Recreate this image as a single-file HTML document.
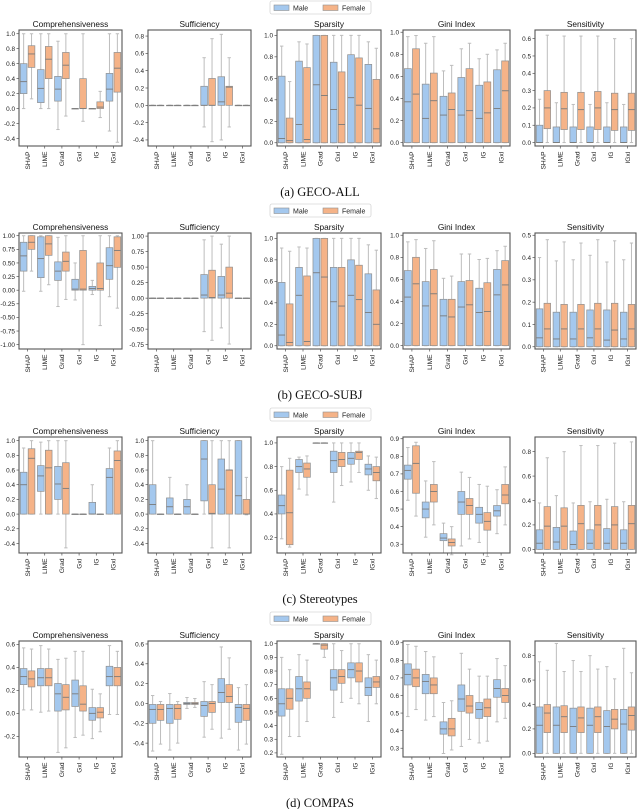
<!DOCTYPE html>
<html><head><meta charset="utf-8"><style>
html,body{margin:0;padding:0;background:#fff;}
svg{display:block;font-family:"Liberation Sans",sans-serif;}
</style></head><body>
<svg id="fig" width="640" height="809" viewBox="0 0 640 809" xmlns="http://www.w3.org/2000/svg"></svg>
<script>
const methods=["SHAP","LIME","Grad","GxI","IG","IGxI"];
const panelTitles=["Comprehensiveness","Sufficiency","Sparsity","Gini Index","Sensitivity"];
const captions=["(a) GECO-ALL","(b) GECO-SUBJ","(c) Stereotypes","(d) COMPAS"];
const Z=[0,0,0,0,0];
const rowA_male=[
 [[0,0.2,0.36,0.6,1],[0,0.08,0.27,0.52,1],[-0.28,0.1,0.26,0.43,0.9],[0,0,0,0,0],[0,0,0,0,0],[-0.3,0.1,0.26,0.47,1]],
 [Z,Z,Z,[-0.25,0,0,0.22,0.55],[-0.4,0,0.04,0.33,0.82],Z],
 [[0,0,0.04,0.62,0.9],[0,0,0.17,0.76,0.94],[0,0,0.54,1,1],[0,0,0.31,0.75,1],[0,0,0.42,0.82,1],[0,0,0.32,0.73,0.94]],
 [[0,0,0.37,0.67,0.96],[0,0,0.22,0.53,0.9],[0,0,0.25,0.42,0.65],[0,0,0.25,0.59,0.85],[0,0,0.22,0.52,0.76],[0,0,0.31,0.66,0.84]],
 [[0,0,0,0.1,0.25],[0,0,0,0.09,0.23],[0,0,0,0.09,0.22],[0,0,0,0.09,0.22],[0,0,0,0.09,0.23],[0,0,0,0.09,0.22]]];
const rowA_female=[
 [[0.13,0.55,0.73,0.84,1],[0,0.4,0.66,0.83,1],[-0.1,0.4,0.58,0.75,1],[-0.17,0,0,0.4,1],[-0.12,0,0.02,0.09,0.23],[-0.45,0.22,0.54,0.75,1]],
 [Z,Z,Z,[-0.42,0,0,0.31,0.77],[-0.25,0,0.21,0.22,0.55],Z],
 [[0,0,0.02,0.23,0.57],[0,0,0.03,0.7,0.92],[0,0,0.44,1,1],[0,0,0.17,0.66,1],[0,0,0.35,0.79,1],[0,0,0.13,0.59,0.88]],
 [[0,0,0.44,0.85,0.97],[0,0,0.38,0.63,0.96],[0,0,0.3,0.45,0.7],[0,0,0.29,0.67,0.9],[0,0,0.27,0.55,0.8],[0,0,0.47,0.74,0.9]],
 [[0,0.08,0.2,0.3,0.62],[0,0.075,0.195,0.29,0.615],[0,0.075,0.19,0.29,0.615],[0,0.075,0.2,0.295,0.615],[0,0.07,0.19,0.285,0.6],[0,0.07,0.19,0.285,0.6]]];
const rowB_male=[
 [[-0.02,0.35,0.63,0.88,1],[-0.02,0.23,0.58,0.98,1],[-0.3,0.18,0.35,0.52,0.97],[-0.18,0,0.02,0.2,0.5],[-0.08,0,0.03,0.07,0.18],[-0.12,0.2,0.45,0.78,1]],
 [Z,Z,Z,[-0.54,0,0.05,0.38,0.94],[-0.48,0,0.05,0.35,0.87],Z],
 [[0,0,0.1,0.59,0.91],[0,0,0.47,0.73,0.92],[0,0,0.68,1,1],[0,0,0.41,0.73,1],[0,0,0.47,0.8,1],[0,0,0.31,0.67,0.94]],
 [[0,0,0.44,0.68,0.94],[0,0,0.36,0.58,0.88],[0,0,0.27,0.42,0.61],[0,0,0.35,0.58,0.83],[0,0,0.3,0.52,0.78],[0,0,0.46,0.69,0.86]],
 [[0,0,0.04,0.17,0.4],[0,0,0.035,0.155,0.385],[0,0,0.035,0.155,0.39],[0,0,0.04,0.165,0.41],[0,0,0.03,0.165,0.38],[0,0,0.035,0.155,0.39]]];
const rowB_female=[
 [[0.35,0.75,0.88,1,1],[0.1,0.64,0.85,1,1],[-0.17,0.35,0.53,0.7,1],[-1,0,0.02,0.73,1],[-0.65,0,0.03,0.5,1],[-0.33,0.42,0.73,0.98,1]],
 [Z,Z,Z,[-0.68,0,0.01,0.45,1],[-0.74,0,0.08,0.5,1],Z],
 [[0,0,0.03,0.39,0.88],[0,0,0.04,0.65,0.91],[0,0,0.64,1,1],[0,0,0.37,0.73,1],[0,0,0.43,0.75,1],[0,0,0.2,0.52,0.89]],
 [[0,0,0.56,0.8,0.96],[0,0,0.47,0.69,0.95],[0,0,0.26,0.42,0.63],[0,0,0.37,0.59,0.83],[0,0,0.31,0.57,0.79],[0,0,0.55,0.77,0.9]],
 [[0,0,0.08,0.195,0.48],[0,0,0.08,0.19,0.47],[0,0,0.08,0.19,0.465],[0,0,0.08,0.195,0.48],[0,0,0.075,0.195,0.475],[0,0,0.08,0.19,0.465]]];
const rowC_male=[
 [[0,0,0.4,0.57,0.9],[0,0.31,0.52,0.66,0.98],[0,0.2,0.41,0.65,1],Z,[0,0,0,0.16,0.4],[0,0,0.5,0.62,0.9]],
 [[0,0,0.13,0.4,1],[0,0,0.1,0.22,0.5],[0,0,0.1,0.2,0.4],[0,0.18,0.75,1,1],[0,0,0.34,0.75,1],[0,0,0.25,1,1]],
 [[0.19,0.4,0.47,0.56,0.8],[0.61,0.75,0.8,0.86,0.88],[1,1,1,1,1],[0.5,0.75,0.85,0.93,1],[0.67,0.82,0.87,0.92,1],[0.6,0.73,0.78,0.82,0.89]],
 [[0.55,0.67,0.72,0.75,0.85],[0.34,0.45,0.5,0.54,0.66],[0.25,0.32,0.335,0.36,0.42],[0.29,0.47,0.54,0.6,0.71],[0.31,0.42,0.47,0.51,0.64],[0.36,0.46,0.49,0.52,0.61]],
 [[0,0,0.05,0.16,0.38],[0,0,0.06,0.18,0.44],[0,0,0.04,0.15,0.38],[0,0,0.05,0.16,0.39],[0,0,0.05,0.17,0.41],[0,0,0.05,0.16,0.39]]];
const rowC_female=[
 [[0,0,0.76,0.89,1],[0,0,0.63,0.87,1],[-0.46,0,0.35,0.7,1],Z,Z,[0,0,0.73,0.86,1]],
 [Z,Z,Z,[-0.46,0,0.01,0.4,1],[-0.46,0,0.6,0.6,1],[-0.01,0,0,0.2,0.5]],
 [[0.12,0.14,0.41,0.77,0.87],[0.56,0.71,0.78,0.83,0.89],[1,1,1,1,1],[0.64,0.8,0.86,0.92,1],[0.75,0.86,0.92,0.93,1],[0.53,0.68,0.75,0.8,0.88]],
 [[0.46,0.59,0.76,0.86,0.88],[0.41,0.54,0.6,0.64,0.77],[0.24,0.29,0.31,0.33,0.4],[0.33,0.47,0.52,0.56,0.68],[0.23,0.38,0.43,0.48,0.63],[0.41,0.53,0.58,0.64,0.74]],
 [[0,0,0.19,0.35,0.75],[0,0,0.19,0.34,0.8],[0,0,0.21,0.36,0.85],[0,0,0.2,0.36,0.85],[0,0,0.2,0.35,0.87],[0,0,0.21,0.36,0.88]]];
const rowD_male=[
 [[0.03,0.25,0.32,0.39,0.57],[0.01,0.24,0.31,0.39,0.59],[-0.34,0.02,0.17,0.26,0.47],[-0.21,0.06,0.17,0.29,0.54],[-0.22,-0.06,0,0.05,0.21],[-0.01,0.24,0.32,0.41,0.59]],
 [[-0.48,-0.2,-0.06,-0.01,0.08],[-0.47,-0.2,-0.05,-0.01,0.1],[-0.05,-0.01,0,0.01,0.06],[-0.34,-0.13,-0.02,0.02,0.22],[-0.35,0.01,0.11,0.25,0.57],[-0.47,-0.19,-0.04,-0.01,0.16]],
 [[0.19,0.47,0.56,0.67,0.9],[0.32,0.58,0.67,0.76,0.92],[1,1,1,1,1],[0.46,0.66,0.75,0.81,1],[0.6,0.75,0.81,0.86,1],[0.43,0.62,0.68,0.75,0.92]],
 [[0.48,0.66,0.72,0.78,0.89],[0.46,0.61,0.68,0.72,0.85],[0.27,0.38,0.41,0.45,0.56],[0.31,0.51,0.58,0.66,0.84],[0.33,0.47,0.52,0.56,0.71],[0.45,0.59,0.64,0.69,0.81]],
 [[0,0,0.23,0.38,0.75],[0,0,0.23,0.38,0.9],[0,0,0.22,0.37,0.76],[0,0,0.23,0.37,0.8],[0,0,0.22,0.35,0.71],[0,0,0.24,0.36,0.86]]];
const rowD_female=[
 [[0.03,0.23,0.3,0.37,0.56],[0.02,0.24,0.31,0.39,0.56],[-0.3,0.03,0.14,0.25,0.48],[-0.19,0.02,0.08,0.24,0.54],[-0.16,-0.04,0.01,0.05,0.17],[-0.01,0.24,0.32,0.4,0.54]],
 [[-0.41,-0.17,-0.06,-0.01,0.02],[-0.4,-0.16,-0.05,-0.01,0.02],[-0.04,-0.01,0,0.01,0.05],[-0.26,-0.09,0,0.02,0.19],[-0.26,0.01,0.07,0.19,0.46],[-0.41,-0.17,-0.05,-0.01,0.19]],
 [[0.32,0.52,0.6,0.67,0.81],[0.43,0.6,0.67,0.72,0.88],[0.9,0.96,0.99,1,1],[0.57,0.71,0.76,0.81,0.95],[0.56,0.72,0.8,0.86,1],[0.56,0.68,0.72,0.76,0.88]],
 [[0.52,0.65,0.7,0.75,0.88],[0.48,0.61,0.66,0.7,0.82],[0.29,0.37,0.41,0.47,0.57],[0.35,0.5,0.54,0.6,0.75],[0.34,0.48,0.53,0.58,0.71],[0.47,0.56,0.6,0.64,0.77]],
 [[0,0.17,0.33,0.4,0.68],[0,0.17,0.3,0.39,0.67],[0,0.17,0.29,0.38,0.67],[0,0.17,0.3,0.38,0.69],[0,0.2,0.28,0.36,0.61],[0,0.19,0.31,0.38,0.66]]];
const yDomains=[
 [[-0.5,1.05],[-0.47,0.87],[-0.03,1.05],[-0.03,1.02],[-0.02,0.65]],
 [[-1.08,1.05],[-0.82,1.05],[-0.03,1.05],[-0.03,1.02],[-0.01,0.51]],
 [[-0.53,1.05],[-0.53,1.05],[0.07,1.05],[0.25,0.91],[-0.03,0.92]],
 [[-0.38,0.63],[-0.54,0.63],[0.17,1.02],[0.25,0.91],[-0.03,0.92]]];
const yTicks=[
 [["-0.4","-0.2","0.0","0.2","0.4","0.6","0.8","1.0"],["-0.4","-0.2","0.0","0.2","0.4","0.6","0.8"],["0.0","0.2","0.4","0.6","0.8","1.0"],["0.0","0.2","0.4","0.6","0.8","1.0"],["0.0","0.1","0.2","0.3","0.4","0.5","0.6"]],
 [["-1.00","-0.75","-0.50","-0.25","0.00","0.25","0.50","0.75","1.00"],["-0.75","-0.50","-0.25","0.00","0.25","0.50","0.75","1.00"],["0.0","0.2","0.4","0.6","0.8","1.0"],["0.0","0.2","0.4","0.6","0.8","1.0"],["0.0","0.1","0.2","0.3","0.4","0.5"]],
 [["-0.4","-0.2","0.0","0.2","0.4","0.6","0.8","1.0"],["-0.4","-0.2","0.0","0.2","0.4","0.6","0.8","1.0"],["0.2","0.4","0.6","0.8","1.0"],["0.3","0.4","0.5","0.6","0.7","0.8","0.9"],["0.0","0.2","0.4","0.6","0.8"]],
 [["-0.2","0.0","0.2","0.4","0.6"],["-0.4","-0.2","0.0","0.2","0.4","0.6"],["0.2","0.3","0.4","0.5","0.6","0.7","0.8","0.9","1.0"],["0.3","0.4","0.5","0.6","0.7","0.8","0.9"],["0.0","0.2","0.4","0.6","0.8"]]];
const maleRows=[rowA_male,rowB_male,rowC_male,rowD_male];
const femaleRows=[rowA_female,rowB_female,rowC_female,rowD_female];

const NS="http://www.w3.org/2000/svg";
const svg=document.getElementById('fig');
function mk(tag,attrs,parent,txt){const e=document.createElementNS(NS,tag);for(const k in attrs)e.setAttribute(k,attrs[k]);if(txt!==undefined)e.textContent=txt;(parent||svg).appendChild(e);return e;}
const frameX=[[19,122],[148,251],[277,381],[403,510],[535,636]];
const rowTop=[30,233,437,641];
const FH=116;
const BLUE="#a4c8ee",ORANGE="#f5b388",EDGE="#8f8f8f",WH="#bdbdbd",MED="#7a7a7a";
for(let r=0;r<4;r++){
  const top=rowTop[r],bot=top+FH;
  const rg=mk('g',{});
  
  
  const lg=mk('g',{},rg);
  
  
  const ly=top-29;
  mk('rect',{x:270,y:ly,width:101,height:13,fill:'#fff',stroke:'#d6d6d6','stroke-width':0.8,rx:2},lg);
  const le1=mk('g',{},lg);
  
  
  mk('rect',{x:274,y:ly+4,width:15,height:5.5,fill:BLUE,stroke:EDGE,'stroke-width':0.6},le1);
  mk('text',{x:293,y:ly+9.5,'font-size':7,fill:'#222'},le1,'Male');
  const le2=mk('g',{},lg);
  
  
  mk('rect',{x:323,y:ly+4,width:15,height:5.5,fill:ORANGE,stroke:EDGE,'stroke-width':0.6},le2);
  mk('text',{x:342,y:ly+9.5,'font-size':7,fill:'#222'},le2,'Female');
  const cap=mk('text',{x:320,y:top+166,'text-anchor':'middle','font-size':12.5,'font-family':'"Liberation Serif",serif',fill:'#111'},rg,captions[r]);
  
  
  for(let p=0;p<5;p++){
    const [x0,x1]=frameX[p];const W=x1-x0;
    const [d0,d1]=yDomains[r][p];
    const Y=v=>bot-(v-d0)/(d1-d0)*FH;
    const pg=mk('g',{},rg);
    
    
    const t=mk('text',{x:(x0+x1)/2,y:top-3,'text-anchor':'middle','font-size':8.3,fill:'#111'},pg,panelTitles[p]);
    
    
    yTicks[r][p].forEach(lbl=>{
      const y=Y(parseFloat(lbl));
      mk('line',{x1:x0-2.5,x2:x0,y1:y,y2:y,stroke:'#333','stroke-width':0.6},pg);
      const tt=mk('text',{x:x0-4,y:y+2.3,'text-anchor':'end','font-size':6.4,fill:'#222'},pg,lbl);
      
      
    });
    const g=W/6;
    const bw=g*0.39;
    methods.forEach((m,i)=>{
      const cx=x0+(i+0.5)*g;
      mk('line',{x1:cx,x2:cx,y1:bot,y2:bot+2.5,stroke:'#333','stroke-width':0.6},pg);
      const xl=mk('text',{x:0,y:0,'text-anchor':'end','font-size':6.6,fill:'#222',transform:`translate(${cx+2.3},${bot+5.5}) rotate(-90)`},pg,m);
      
      
      [[maleRows,BLUE,-1,'male'],[femaleRows,ORANGE,1,'female']].forEach(([src,col,side,nm])=>{
        const b=src[r][p][i];
        const bx=side<0?cx-bw-0.6:cx+0.6;
        const bc=bx+bw/2;
        const bg=mk('g',{},pg);
        
        
        mk('line',{x1:bc,x2:bc,y1:Y(b[0]),y2:Y(b[1]),stroke:WH,'stroke-width':1},bg);
        mk('line',{x1:bc,x2:bc,y1:Y(b[3]),y2:Y(b[4]),stroke:WH,'stroke-width':1},bg);
        mk('line',{x1:bc-bw/4,x2:bc+bw/4,y1:Y(b[0]),y2:Y(b[0]),stroke:WH,'stroke-width':1},bg);
        mk('line',{x1:bc-bw/4,x2:bc+bw/4,y1:Y(b[4]),y2:Y(b[4]),stroke:WH,'stroke-width':1},bg);
        const h=Math.max(Y(b[1])-Y(b[3]),0.5);
        mk('rect',{x:bx,y:Y(b[3]),width:bw,height:h,fill:col,stroke:EDGE,'stroke-width':0.7},bg);
        mk('line',{x1:bx,x2:bx+bw,y1:Y(b[2]),y2:Y(b[2]),stroke:MED,'stroke-width':0.9},bg);
      });
    });
    mk('rect',{x:x0,y:top,width:W,height:FH,fill:'none',stroke:'#555','stroke-width':1.1},pg);
  }
}
</script>
</body></html>
